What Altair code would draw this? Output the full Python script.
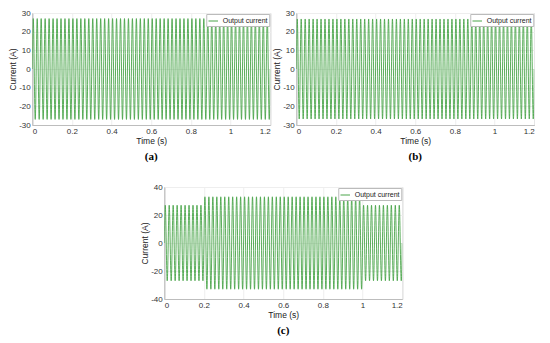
import numpy as np
import pandas as pd
import altair as alt

# ---- data ----
frequency_hz = 50
t_end = 1.2
time_ticks = [0, 0.2, 0.4, 0.6, 0.8, 1, 1.2]

a_seg_start = [0.0]
a_seg_end = [1.2]
a_amp = [27.0]

b_seg_start = [0.0]
b_seg_end = [1.2]
b_amp = [26.8]

c_seg_start = [0.0, 0.2, 1.0]
c_seg_end = [0.2, 1.0, 1.2]
c_amp = [27.0, 33.0, 27.0]

ab_yticks = [-30, -20, -10, 0, 10, 20, 30]
c_yticks = [-40, -20, 0, 20, 40]

captions = ["(a)", "(b)", "(c)"]
series_name = "Output current"

LINE = "#4aa54a"
FONT = "Liberation Sans"


def waveform(starts, ends, amps):
    t = np.arange(0, t_end + 1e-9, 0.0005)
    amp = np.zeros_like(t)
    for s, e, a in zip(starts, ends, amps):
        amp[(t >= s) & (t <= e + 1e-9)] = a
    i = amp * np.sin(2 * np.pi * frequency_hz * t)
    return pd.DataFrame({"t": t, "i": i, "series": series_name})


def panel(df, ydom, yticks, caption):
    return alt.Chart(df).mark_line(strokeWidth=0.9, clip=True).encode(
        x=alt.X("t:Q", scale=alt.Scale(domain=[0, 1.2], nice=False, zero=False),
                axis=alt.Axis(values=time_ticks, title="Time (s)",
                              labelExpr="'' + datum.value")),
        y=alt.Y("i:Q", scale=alt.Scale(domain=ydom, nice=False),
                axis=alt.Axis(values=yticks, title="Current (A)",
                              labelExpr="'' + datum.value")),
        color=alt.Color("series:N",
                        scale=alt.Scale(domain=[series_name], range=[LINE]),
                        legend=alt.Legend(title=None, orient="top-right", offset=1,
                                          symbolType="stroke", symbolSize=90,
                                          symbolStrokeWidth=1,
                                          symbolStrokeColor="#808080",
                                          labelFontSize=7,
                                          labelFont=FONT, labelColor="#222",
                                          padding=1.5, fillColor="white",
                                          strokeColor="#bbbbbb", rowPadding=0)),
    ).properties(
        width=238, height=112,
        title=alt.TitleParams(caption, orient="bottom", font="Liberation Serif",
                              fontSize=11, fontWeight="bold", color="black",
                              anchor="middle", frame="group", offset=6),
    )


pa = panel(waveform(a_seg_start, a_seg_end, a_amp), [-30, 30], ab_yticks, captions[0])
pb = panel(waveform(b_seg_start, b_seg_end, b_amp), [-30, 30], ab_yticks, captions[1])
pc = panel(waveform(c_seg_start, c_seg_end, c_amp), [-40, 40], c_yticks, captions[2])

top = alt.hconcat(pa, pb, spacing=0).resolve_scale(color="independent").resolve_legend(color="independent")
chart = alt.vconcat(top, pc, spacing=20, center=True).resolve_scale(
    color="independent").resolve_legend(color="independent").properties(padding=0).configure_axis(
    labelFont=FONT, titleFont=FONT, labelFontSize=8, titleFontSize=8.5,
    labelColor="#333", titleColor="#222", titleFontWeight="normal",
    domainColor="#bdbdbd", gridColor="#eeeeee", ticks=False,
    labelPadding=2, titlePadding=1,
).configure_view(stroke="#bdbdbd").configure_concat(spacing=0)

chart.save("out.html", embed_options={"renderer": "svg", "actions": False})
